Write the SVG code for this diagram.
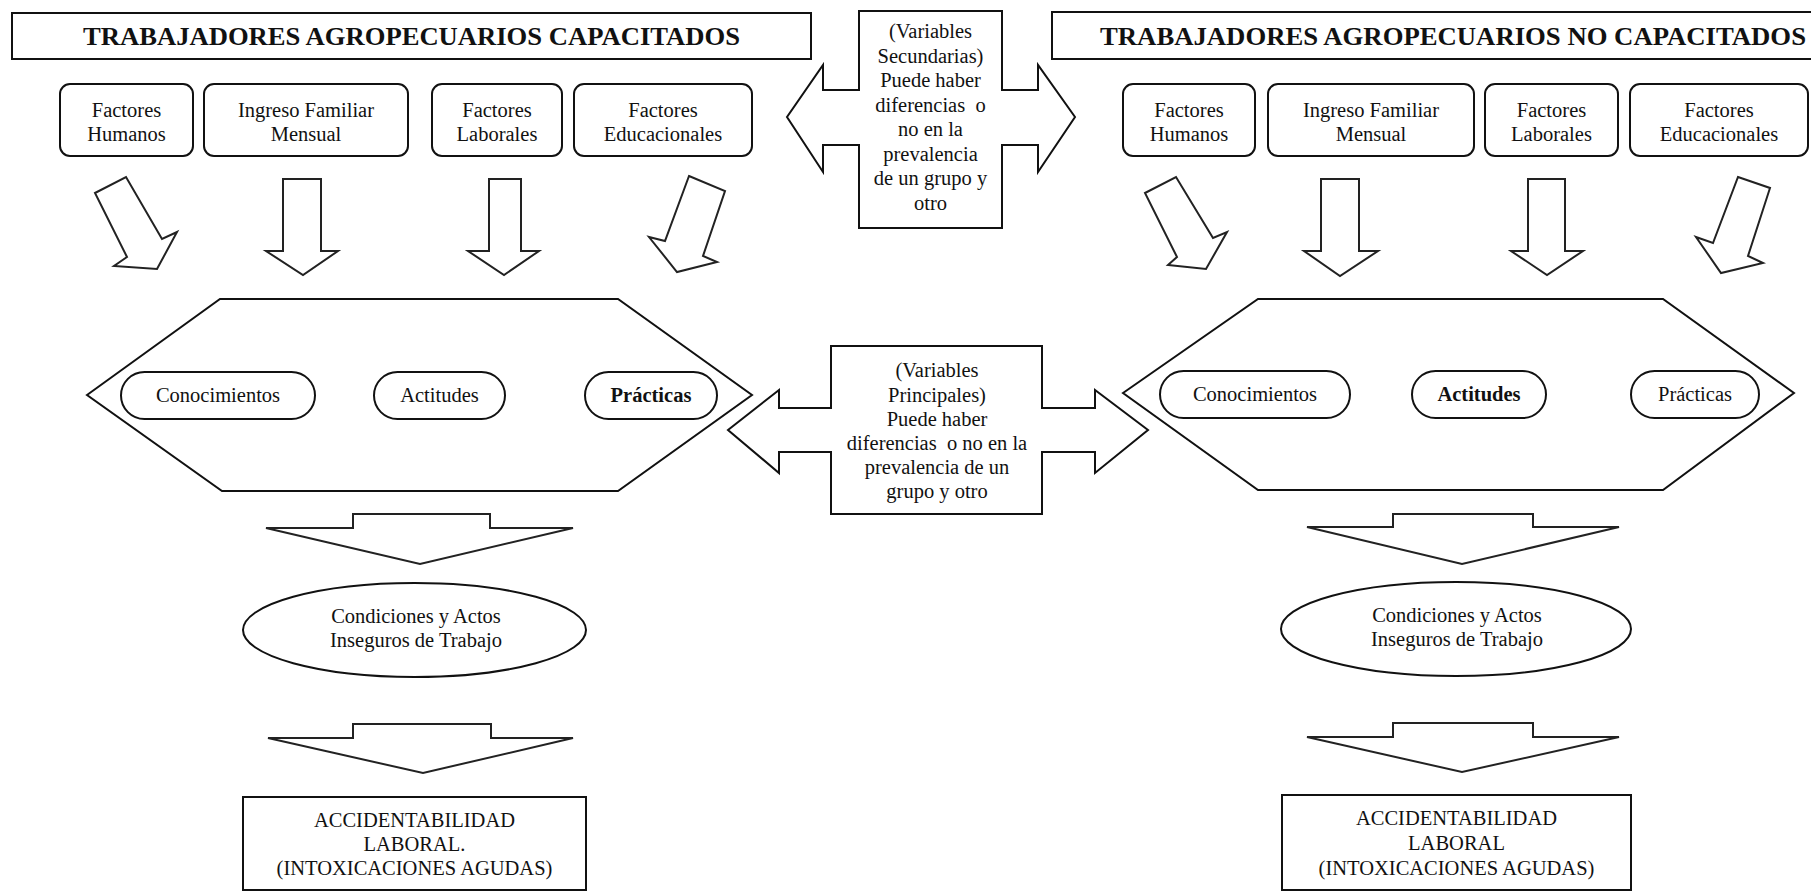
<svg xmlns="http://www.w3.org/2000/svg" width="1811" height="892" viewBox="0 0 1811 892">
<style>
.bg{fill:#fff}
.box{fill:#fff;stroke:#111;stroke-width:2}
.arr{fill:#fff;stroke:#222;stroke-width:2;stroke-linejoin:miter}
.t{font-family:"Liberation Serif","Times New Roman",serif;font-size:20.5px;fill:#111;text-anchor:middle}
.b{font-weight:bold}
.title{font-family:"Liberation Serif","Times New Roman",serif;font-size:25px;font-weight:bold;fill:#111}
</style>
<rect class="bg" x="0" y="0" width="1811" height="892"/>

<g id="title-left">
<rect class="box" x="12" y="13" width="799" height="46"/>
<text class="title" x="83" y="45" textLength="657" lengthAdjust="spacingAndGlyphs">TRABAJADORES AGROPECUARIOS CAPACITADOS</text>
</g>
<g id="title-right">
<rect class="box" x="1052" y="12" width="790" height="47"/>
<text class="title" x="1100" y="45" textLength="706" lengthAdjust="spacingAndGlyphs">TRABAJADORES AGROPECUARIOS NO CAPACITADOS</text>
</g>

<g id="secundarias">
<path class="box" d="M859,11 H1002 V90 H1038 V65 L1075,117 L1038,172 V145 H1002 V228 H859 V145 H823 V172 L787,117 L823,65 V90 H859 Z"/>
<text class="t" x="930.5" y="38">(Variables</text>
<text class="t" x="930.5" y="62.5">Secundarias)</text>
<text class="t" x="930.5" y="87">Puede haber</text>
<text class="t" x="930.5" y="111.5" xml:space="preserve">diferencias  o</text>
<text class="t" x="930.5" y="136">no en la</text>
<text class="t" x="930.5" y="160.5">prevalencia</text>
<text class="t" x="930.5" y="185">de un grupo y</text>
<text class="t" x="930.5" y="209.5">otro</text>
</g>

<g id="principales">
<path class="box" d="M831,346 H1042 V408 H1095 V390 L1148,430 L1095,473 V452 H1042 V514 H831 V452 H779 V473 L728,430 L779,390 V408 H831 Z"/>
<text class="t" x="937" y="377">(Variables</text>
<text class="t" x="937" y="401.5">Principales)</text>
<text class="t" x="937" y="425.5">Puede haber</text>
<text class="t" x="937" y="449.5" xml:space="preserve">diferencias  o no en la</text>
<text class="t" x="937" y="473.5">prevalencia de un</text>
<text class="t" x="937" y="497.5">grupo y otro</text>
</g>

<!-- Left factor boxes -->
<g id="l-humanos">
<rect class="box" x="60" y="84" width="133" height="72" rx="10"/>
<text class="t" x="126.5" y="117">Factores</text>
<text class="t" x="126.5" y="141">Humanos</text>
</g>
<g id="l-ingreso">
<rect class="box" x="204" y="84" width="204" height="72" rx="10"/>
<text class="t" x="306" y="117">Ingreso Familiar</text>
<text class="t" x="306" y="141">Mensual</text>
</g>
<g id="l-laborales">
<rect class="box" x="432" y="84" width="130" height="72" rx="10"/>
<text class="t" x="497" y="117">Factores</text>
<text class="t" x="497" y="141">Laborales</text>
</g>
<g id="l-educacionales">
<rect class="box" x="574" y="84" width="178" height="72" rx="10"/>
<text class="t" x="663" y="117">Factores</text>
<text class="t" x="663" y="141">Educacionales</text>
</g>

<!-- Right factor boxes -->
<g id="r-humanos">
<rect class="box" x="1123" y="84" width="132" height="72" rx="10"/>
<text class="t" x="1189" y="117">Factores</text>
<text class="t" x="1189" y="141">Humanos</text>
</g>
<g id="r-ingreso">
<rect class="box" x="1268" y="84" width="206" height="72" rx="10"/>
<text class="t" x="1371" y="117">Ingreso Familiar</text>
<text class="t" x="1371" y="141">Mensual</text>
</g>
<g id="r-laborales">
<rect class="box" x="1485" y="84" width="133" height="72" rx="10"/>
<text class="t" x="1551.5" y="117">Factores</text>
<text class="t" x="1551.5" y="141">Laborales</text>
</g>
<g id="r-educacionales">
<rect class="box" x="1630" y="84" width="178" height="72" rx="10"/>
<text class="t" x="1719" y="117">Factores</text>
<text class="t" x="1719" y="141">Educacionales</text>
</g>

<!-- Hexagons with pills -->
<g id="l-variables">
<polygon class="box" points="87,395 220,299 618,299 752,395 618,491 222,491"/>
<rect class="box" x="121" y="372" width="194" height="47" rx="23.5"/>
<text class="t" x="218" y="402">Conocimientos</text>
<rect class="box" x="374" y="372" width="131" height="47" rx="23.5"/>
<text class="t" x="439.5" y="402">Actitudes</text>
<rect class="box" x="585" y="372" width="132" height="47" rx="23.5"/>
<text class="t b" x="651" y="402">Prácticas</text>
</g>
<g id="r-variables">
<polygon class="box" points="1123,393 1258,299 1663,299 1794,393 1663,490 1258,490"/>
<rect class="box" x="1160" y="371" width="190" height="47" rx="23.5"/>
<text class="t" x="1255" y="401">Conocimientos</text>
<rect class="box" x="1412" y="371" width="134" height="47" rx="23.5"/>
<text class="t b" x="1479" y="401">Actitudes</text>
<rect class="box" x="1631" y="371" width="128" height="47" rx="23.5"/>
<text class="t" x="1695" y="401">Prácticas</text>
</g>

<!-- Ellipses -->
<g id="l-condiciones">
<ellipse class="box" cx="414.5" cy="630" rx="171.5" ry="47"/>
<text class="t" x="416" y="623">Condiciones y Actos</text>
<text class="t" x="416" y="647">Inseguros de Trabajo</text>
</g>
<g id="r-condiciones">
<ellipse class="box" cx="1456" cy="629" rx="175" ry="47"/>
<text class="t" x="1457" y="622">Condiciones y Actos</text>
<text class="t" x="1457" y="646">Inseguros de Trabajo</text>
</g>

<!-- Accidentabilidad -->
<g id="l-accidentabilidad">
<rect class="box" x="243" y="797" width="343" height="93"/>
<text class="t" x="414.5" y="827">ACCIDENTABILIDAD</text>
<text class="t" x="414.5" y="851">LABORAL.</text>
<text class="t" x="414.5" y="875">(INTOXICACIONES AGUDAS)</text>
</g>
<g id="r-accidentabilidad">
<rect class="box" x="1282" y="795" width="349" height="95"/>
<text class="t" x="1456.5" y="825">ACCIDENTABILIDAD</text>
<text class="t" x="1456.5" y="850">LABORAL</text>
<text class="t" x="1456.5" y="875">(INTOXICACIONES AGUDAS)</text>
</g>

<g id="connectors">
<!-- left top arrows -->
<polygon class="arr" points="95,193 126,177 162,239 177,232 157,269 114,266 127,257"/>
<polygon class="arr" points="283,179 321,179 321,251 338,251 303,275 266,251 283,251"/>
<polygon class="arr" points="489,179 521,179 521,251 539,251 504,275 468,251 489,251"/>
<polygon class="arr" points="689,176 725,191 703,256 717,262 677,272 649,237 665,241"/>
<!-- right top arrows -->
<polygon class="arr" points="1145,193 1176,177 1213,238 1227,232 1206,269 1168,265 1177,257"/>
<polygon class="arr" points="1321,179 1359,179 1359,251 1378,251 1340,276 1304,251 1321,251"/>
<polygon class="arr" points="1528,179 1565,179 1565,251 1583,251 1547,275 1511,251 1528,251"/>
<polygon class="arr" points="1738,177 1770,188 1748,256 1763,263 1721,273 1696,237 1713,243"/>
<!-- lower arrows left -->
<polygon class="arr" points="353,514 490,514 490,528 573,528 420,564 266,528 353,528"/>
<polygon class="arr" points="353,724 491,724 491,738 573,738 423,773 268,738 353,738"/>
<!-- lower arrows right -->
<polygon class="arr" points="1393,514 1533,514 1533,527 1619,527 1462,564 1307,527 1393,527"/>
<polygon class="arr" points="1393,723 1533,723 1533,737 1619,737 1462,772 1307,737 1393,737"/>
</g>
</svg>
